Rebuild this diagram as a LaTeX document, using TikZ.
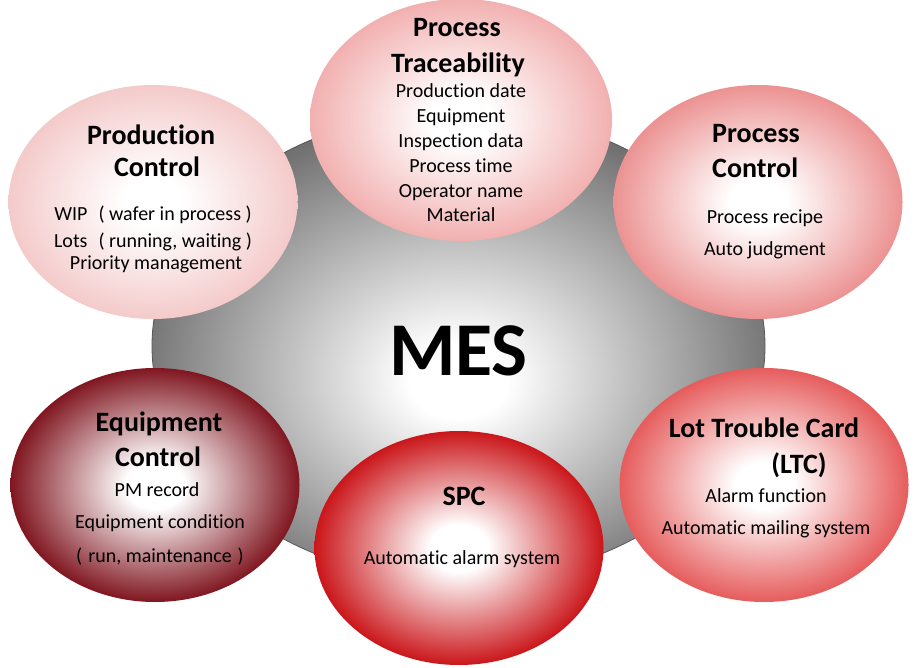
\documentclass[tikz,border=0pt]{standalone}
\usepackage{fontspec}
\setmainfont{Carlito}[Ligatures=NoCommon]
\usetikzlibrary{shapes.geometric}
\definecolor{cGray}{RGB}{108,108,108}
\definecolor{cPT}{RGB}{242,176,176}
\definecolor{cPC}{RGB}{244,202,202}
\definecolor{cPR}{RGB}{236,146,146}
\definecolor{cEC}{RGB}{128,22,32}
\definecolor{cSPC}{RGB}{202,22,26}
\definecolor{cLTC}{RGB}{230,92,92}
\pgfdeclareradialshading{shGray}{\pgfpoint{0bp}{-4bp}}{color(0bp)=(white);color(4bp)=(white);color(27bp)=(cGray);color(50bp)=(cGray)}
\pgfdeclareradialshading{shPT}{\pgfpoint{0bp}{0bp}}{color(0bp)=(white);color(5bp)=(white);color(25bp)=(cPT);color(50bp)=(cPT)}
\pgfdeclareradialshading{shPC}{\pgfpoint{0bp}{0bp}}{color(0bp)=(white);color(5bp)=(white);color(25bp)=(cPC);color(50bp)=(cPC)}
\pgfdeclareradialshading{shPR}{\pgfpoint{0bp}{0bp}}{color(0bp)=(white);color(5bp)=(white);color(25bp)=(cPR);color(50bp)=(cPR)}
\pgfdeclareradialshading{shEC}{\pgfpoint{0bp}{0bp}}{color(0bp)=(white);color(5bp)=(white);color(25bp)=(cEC);color(50bp)=(cEC)}
\pgfdeclareradialshading{shSPC}{\pgfpoint{0bp}{0bp}}{color(0bp)=(white);color(5bp)=(white);color(25bp)=(cSPC);color(50bp)=(cSPC)}
\pgfdeclareradialshading{shLTC}{\pgfpoint{0bp}{0bp}}{color(0bp)=(white);color(5bp)=(white);color(25bp)=(cLTC);color(50bp)=(cLTC)}
\begin{document}
\begin{tikzpicture}[x=1pt,y=-1pt,
  blob/.style={ellipse, shade, inner sep=0pt, minimum width=289pt, minimum height=234pt},
  ttl/.style={font=\bfseries\fontsize{28}{30}\selectfont, anchor=base, inner sep=0pt},
  itm/.style={font=\fontsize{20}{22}\selectfont, anchor=base, inner sep=0pt}]
\useasboundingbox[fill=white] (0,0) rectangle (918,668);
% central ellipse
\node[ellipse, shade, shading=shGray, draw=black!65, line width=0.8pt, inner sep=0pt,
      minimum width=613pt, minimum height=470pt] (core) at (458.5,346) {};
\node[font=\bfseries\fontsize{76}{80}\selectfont, anchor=base, inner sep=0pt] (mes) at (458.5,375) {MES};
% satellites
\node[blob, shading=shPT, minimum width=302pt, minimum height=242pt] (pt) at (461,120) {};
\node[blob, shading=shPC] (pc) at (153,202) {};
\node[blob, shading=shPR] (pr) at (758,202) {};
\node[blob, shading=shEC] (ec) at (155,485) {};
\node[blob, shading=shSPC] (spc) at (459,548) {};
\node[blob, shading=shLTC] (ltc) at (764,485) {};
% Process Traceability
\node[ttl] (pt1) at (457,37) {Process};
\node[ttl] (pt2) at (458,73) {Traceability};
\node[itm] (pt3) at (461,98) {Production date};
\node[itm] (pt4) at (461,123) {Equipment};
\node[itm] (pt5) at (461,148) {Inspection data};
\node[itm] (pt6) at (461,173) {Process time};
\node[itm] (pt7) at (461,198) {Operator name};
\node[itm] (pt8) at (461,222) {Material};
% Production Control
\node[ttl] (pc1) at (151,145) {Production};
\node[ttl] (pc2) at (157,177) {Control};
\node[itm] (pc3) at (153,221) {WIP\hspace{11pt}( wafer in process )};
\node[itm] (pc4) at (153,248) {Lots\hspace{11pt}( running, waiting )};
\node[itm] (pc5) at (156,270) {Priority management};
% Process Control
\node[ttl, anchor=base west] (pr1) at (712,143) {Process};
\node[ttl, anchor=base west] (pr2) at (712,178) {Control};
\node[itm] (pr3) at (765,224) {Process recipe};
\node[itm] (pr4) at (765,256) {Auto judgment};
% Equipment Control
\node[ttl] (ec1) at (159,431) {Equipment};
\node[ttl] (ec2) at (158,466) {Control};
\node[itm] (ec3) at (157,496) {PM record};
\node[itm] (ec4) at (160,528) {Equipment condition};
\node[itm] (ec5) at (160,562) {(\hspace{6pt}run, maintenance\hspace{6pt})};
% SPC
\node[ttl] (spc1) at (464,505) {SPC};
\node[itm] (spc2) at (462,564) {Automatic alarm system};
% LTC
\node[ttl] (ltc1) at (764,437) {Lot Trouble Card};
\node[ttl] (ltc2) at (799,473) {(LTC)};
\node[itm] (ltc3) at (766,502) {Alarm function};
\node[itm] (ltc4) at (766,534) {Automatic mailing system};
\end{tikzpicture}
\end{document}
